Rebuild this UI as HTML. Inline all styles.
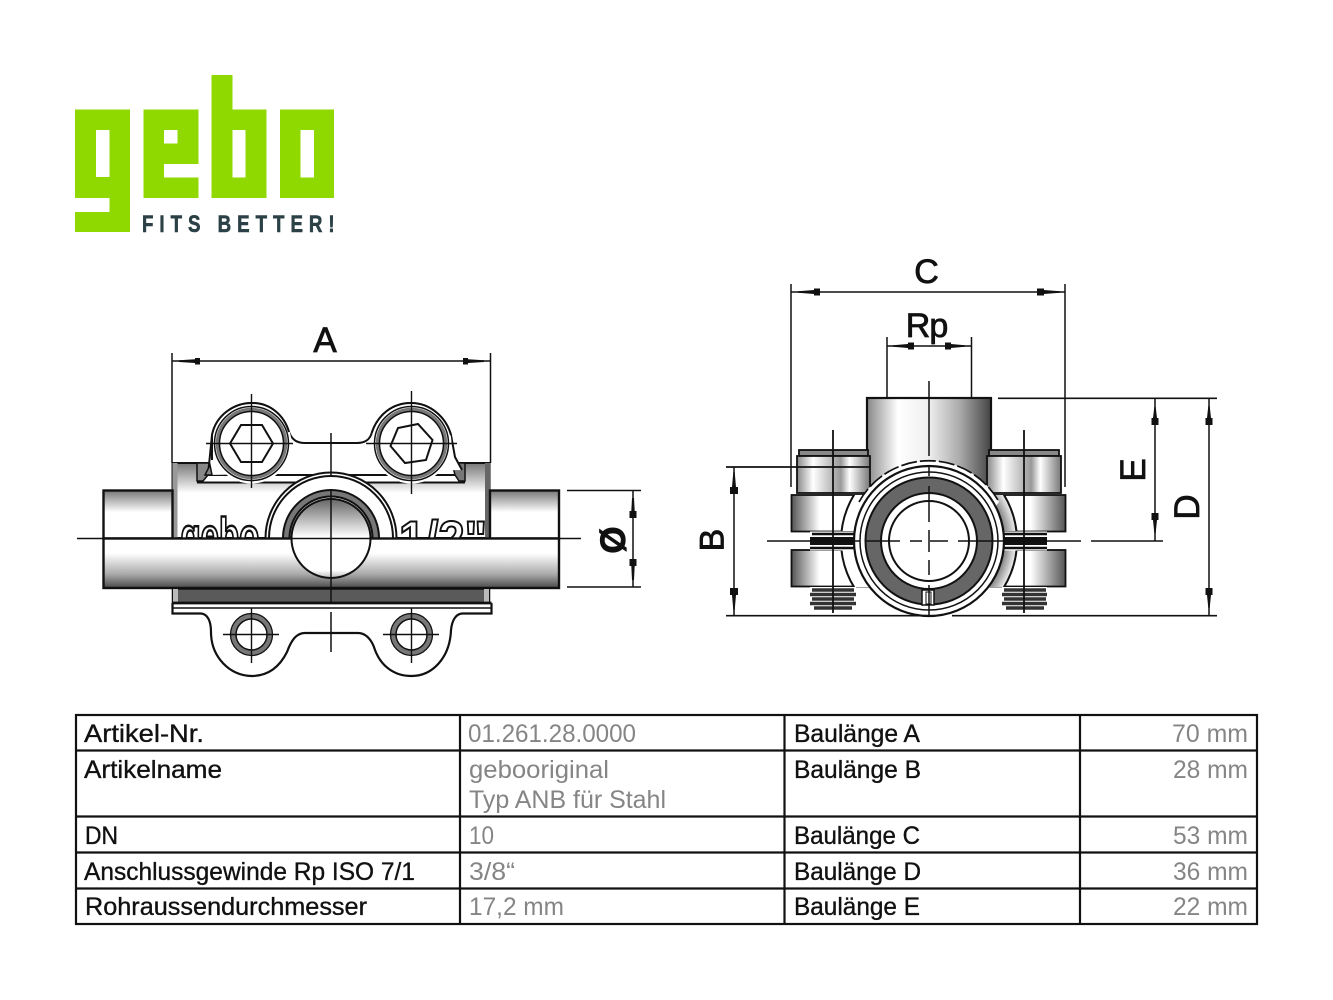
<!DOCTYPE html>
<html><head><meta charset="utf-8"><style>
html,body{margin:0;padding:0;background:#fff}
svg{display:block}
text{font-family:"Liberation Sans",sans-serif}
.t{font-size:25px;fill:#111;stroke:#111;stroke-width:.35}
.g{font-size:25px;fill:#858585}
.l{font-size:34px;fill:#111;stroke:#111;stroke-width:.8}
</style></head><body>
<svg width="1333" height="1000" viewBox="0 0 1333 1000" xmlns="http://www.w3.org/2000/svg">
<defs>
<linearGradient id="v1" x1="0" y1="0" x2="0" y2="1"><stop offset="0" stop-color="#777"/><stop offset=".4" stop-color="#fff"/><stop offset="1" stop-color="#fff"/></linearGradient>
<linearGradient id="v2" x1="0" y1="0" x2="0" y2="1"><stop offset="0" stop-color="#fff"/><stop offset=".3" stop-color="#fff"/><stop offset=".72" stop-color="#aaa"/><stop offset="1" stop-color="#4a4a4a"/></linearGradient>
<linearGradient id="v3" x1="0" y1="0" x2="0" y2="1"><stop offset="0" stop-color="#777"/><stop offset=".45" stop-color="#fff"/><stop offset="1" stop-color="#fff"/></linearGradient>
<linearGradient id="sp" x1="0" y1="0" x2="0" y2="1"><stop offset="0" stop-color="#666"/><stop offset=".48" stop-color="#fff"/><stop offset=".9" stop-color="#fff"/><stop offset="1" stop-color="#bbb"/></linearGradient>
<linearGradient id="neck" x1="0" y1="0" x2="1" y2="0"><stop offset="0" stop-color="#888"/><stop offset=".25" stop-color="#fff"/><stop offset=".5" stop-color="#eee"/><stop offset=".75" stop-color="#aaa"/><stop offset="1" stop-color="#444"/></linearGradient>
<linearGradient id="head" x1="0" y1="0" x2="1" y2="0"><stop offset="0" stop-color="#888"/><stop offset=".22" stop-color="#fff"/><stop offset=".6" stop-color="#999"/><stop offset=".72" stop-color="#fff"/><stop offset="1" stop-color="#777"/></linearGradient>
<linearGradient id="lugL" x1="0" y1="0" x2="1" y2="0"><stop offset="0" stop-color="#555"/><stop offset=".35" stop-color="#fff"/><stop offset="1" stop-color="#fff"/></linearGradient>
<linearGradient id="lugR" x1="0" y1="0" x2="1" y2="0"><stop offset="0" stop-color="#777"/><stop offset=".25" stop-color="#fff"/><stop offset=".55" stop-color="#fff"/><stop offset="1" stop-color="#555"/></linearGradient>
<radialGradient id="earR" gradientUnits="userSpaceOnUse" cx="929" cy="541" r="88"><stop offset=".84" stop-color="#777"/><stop offset="1" stop-color="#f4f4f4"/></radialGradient>
<clipPath id="up"><rect x="172" y="460" width="318" height="78.5"/></clipPath>
<clipPath id="lugLc"><path d="M791 495H872V531H791ZM791 550H872V587H791Z"/></clipPath>
<clipPath id="lugRc"><path d="M988 495H1066V531H988ZM988 550H1066V587H988Z"/></clipPath>
</defs>
<rect width="1333" height="1000" fill="#fff"/>

<!-- logo -->
<g fill="#8fd800" fill-rule="evenodd">
<path d="M75 109.5H130V232H75V212H109.5V198H75ZM96 130V177H109.5V130Z"/>
<path d="M143.500 109.500H198.500V164H164V177.500H198.500V198H143.500ZM164 130V143.500H177.500V130Z"/>
<path d="M211.500 75H232.500V109.500H266.500V198H211.500ZM232.500 130V177.500H245.500V130Z"/>
<path d="M280 109.500H334V198H280ZM300.500 130V177.500H314V130Z"/>
</g>
<text transform="translate(142 232) scale(.78 1)" font-size="24" font-weight="700" fill="#2b4146" stroke="#2b4146" stroke-width=".6" textLength="247" lengthAdjust="spacing">FITS BETTER!</text>

<!-- LEFT VIEW -->
<g stroke="#111" stroke-width="1.5" fill="none">
<rect x="172.500" y="463" width="317" height="75" fill="url(#v1)" stroke-width="2"/>
<rect x="172.500" y="463" width="5" height="75" fill="#999" stroke="none"/>
<rect x="485" y="463" width="5" height="75" fill="#666" stroke="none"/>
<path d="M197 463V482H465V463" fill="#fff" stroke="none"/>
<path d="M197 463H211L208 475 203 481H197Z" fill="#888" stroke="#111"/>
<path d="M465 463H452L455 475 459 481H465Z" fill="#777" stroke="#111"/>
<path d="M197 482.500H465M208 475H455" stroke-width="2"/>
<path d="M208 475L212 435C216 415 234 403 252 403C270 403 284 415 289 432C292 440 297 443 305 443H357C365 443 370 440 372 432C378 415 392 403 411 403C430 403 446 417 451 435L455 457L462 470" fill="#fff" stroke-width="2"/>
<path d="M205 475H212L210 465Z" fill="#888"/>
</g>
<g stroke="#111" fill="none">
<circle cx="251.500" cy="443.500" r="40" fill="#fff" stroke="none"/>
<circle cx="411.500" cy="443.500" r="40" fill="#fff" stroke="none"/>
<path d="M212 460V435C216 415 234 403 252 403C270 403 284 415 289 432M372 432C378 415 392 403 411 403C430 403 446 417 451 435" stroke-width="2"/>
<circle cx="251.500" cy="443.500" r="37" stroke-width="1.500"/>
<circle cx="251.500" cy="443.500" r="34" stroke="#777" stroke-width="3.500"/>
<circle cx="251.500" cy="443.500" r="32" stroke-width="1.500"/>
<circle cx="411.500" cy="443.500" r="37" stroke-width="1.500"/>
<circle cx="411.500" cy="443.500" r="34" stroke="#777" stroke-width="3.500"/>
<circle cx="411.500" cy="443.500" r="32" stroke-width="1.500"/>
<path d="M230 443.500L241 425H262L273 443.500L262 462H241Z" stroke-width="2" fill="#fff"/>
<path d="M390.500 446L398 428 418 424 432.500 440 426 460 405 463Z" stroke-width="2" fill="#fff"/>
<path d="M251.500 394V488M206 443.500H293M411.500 391V494M366 443.500H457" stroke-width="1.400"/>
</g>
<!-- pipes -->
<rect x="103.500" y="490.500" width="69" height="48" fill="url(#v3)" stroke="#111" stroke-width="2.400"/>
<rect x="490" y="490.500" width="69" height="48" fill="url(#v3)" stroke="#111" stroke-width="2.400"/>
<g clip-path="url(#up)">
<text transform="translate(180.500 553) scale(.66 1)" font-size="50" font-weight="700" fill="#fff" stroke="#111" stroke-width="2.500">gebo</text>
<text x="399" y="556" font-size="50" font-weight="700" fill="#fff" stroke="#111" stroke-width="2" textLength="88" lengthAdjust="spacingAndGlyphs">1/2"</text>
<g stroke="#111" stroke-width="2">
<circle cx="331" cy="538" r="65.500" fill="#fff"/>
<circle cx="331" cy="538" r="62" fill="#fff"/>
<circle cx="331" cy="538" r="48" fill="#777"/>
<circle cx="331" cy="538" r="41.500" fill="#fff"/>
</g>
</g>
<rect x="103.500" y="538.500" width="455.500" height="49.500" fill="url(#v2)" stroke="#111" stroke-width="2.400"/>
<rect x="172.500" y="589" width="317" height="14" fill="#5a5a5a" stroke="#111" stroke-width="1.500"/>
<rect x="173" y="589" width="5" height="14" fill="#bbb"/>
<rect x="484" y="589" width="5" height="14" fill="#bbb"/>
<circle cx="331" cy="538.500" r="39.500" fill="url(#sp)" stroke="#111" stroke-width="2"/>
<g stroke="#111" fill="none">
<path d="M172.500 603V613.500H201C207 614 211 620 211 632C211 657 230 676 251.500 676C272 676 282 662 287 652C291 641 296 633 305 633H358C366 633 372 640 375 650C381 666 394 676 411.500 676C433 676 450 657 451 630C452 620 456 614 462 613.500H491.500V603" stroke-width="2.200" fill="#fff"/>
<path d="M172.500 608H491.500" stroke-width="1.500"/>
<path d="M172 603H491.500" stroke-width="2.800"/>
<circle cx="251.500" cy="634.500" r="18.500" stroke="#777" stroke-width="5"/>
<circle cx="251.500" cy="634.500" r="21" stroke-width="1.300"/>
<circle cx="251.500" cy="634.500" r="15.500" stroke-width="1.500"/>
<circle cx="411.500" cy="634.500" r="18.500" stroke="#777" stroke-width="5"/>
<circle cx="411.500" cy="634.500" r="21" stroke-width="1.300"/>
<circle cx="411.500" cy="634.500" r="15.500" stroke-width="1.500"/>
<path d="M223 634.500H279M251.500 608V663M383 634.500H439M411.500 608V663" stroke-width="1.400"/>
<path d="M77 538.500H581M331 433V477M331 490V603M331 612V652" stroke-width="1.500"/>
<!-- dims A and O -->
<path d="M172 353V463M490.500 353V463M172 361H490.500" stroke-width="1.500"/>
<path d="M567 490.500H641M567 587H641M633 490.500V587" stroke-width="1.500"/>
</g>
<g fill="#111">
<path d="M179 360.300L195 359.300V358H200V364.500H195V363L179 362ZM484 360.300L468 359.300V358H463V364.500H468V363L484 362Z"/>
<path d="M632 498L631.300 511H629.500V518H636.500V511H634.700L634 498ZM632 580L631.300 566H629.500V559H636.500V566H634.700L634 580Z"/>
</g>
<text class="l" x="325" y="352" text-anchor="middle" style="font-size:35px">A</text>
<text class="l" transform="translate(625 540) rotate(-90)" text-anchor="middle" style="font-size:35px;font-weight:700">Ø</text>

<!-- RIGHT VIEW -->
<rect x="867" y="398" width="124" height="90" fill="url(#neck)" stroke="#111" stroke-width="2.200"/>
<g stroke="#111" stroke-width="1.800">
<rect x="799" y="450" width="69" height="6" fill="#888"/>
<rect x="797" y="456" width="73" height="37" fill="url(#head)"/>
<rect x="989" y="450" width="70" height="6" fill="#888"/>
<rect x="987" y="456" width="74" height="37" fill="url(#head)"/>
<rect x="791.500" y="495" width="80" height="36.500" fill="url(#lugL)"/>
<rect x="791.500" y="550" width="80" height="36.500" fill="url(#lugL)"/>
<rect x="988" y="495" width="77.500" height="36.500" fill="url(#lugR)"/>
<rect x="988" y="550" width="77.500" height="36.500" fill="url(#lugR)"/>
</g>
<g clip-path="url(#lugLc)"><circle cx="929" cy="541" r="88" fill="#fff" stroke="#111" stroke-width="2"/></g>
<g clip-path="url(#lugRc)"><circle cx="929" cy="541" r="88" fill="url(#earR)" stroke="#111" stroke-width="2"/></g>
<g>
<rect x="810" y="531.500" width="46" height="19" fill="#fff"/>
<rect x="1002" y="531.500" width="45" height="19" fill="#fff"/>
<path d="M812 534H856M810 548H856M1002 534H1047M1002 548H1047" stroke="#111" stroke-width="2.500"/>
<rect x="810" y="537" width="46" height="8" fill="#111"/>
<rect x="1002" y="537" width="45" height="8" fill="#111"/>
<rect x="810" y="587" width="46" height="23" fill="#fff"/>
<rect x="1002" y="587" width="45" height="23" fill="#fff"/>
<path d="M812 590H854M810 594.500H856M812 599H854M810 603.500H856M814 608H852M1004 590H1046M1002 594.500H1047M1004 599H1046M1002 603.500H1047M1006 608H1044" stroke="#333" stroke-width="3.400"/>
</g>
<g stroke="#111" fill="none">
<path d="M859 502A80 80 0 0 1 999 502L985 520H873Z" fill="#fff" stroke="none"/>
<path d="M859 502A80 80 0 0 1 999 502" stroke-width="1.700" stroke-dasharray="16 3"/>
<circle cx="929" cy="541" r="75" fill="#fff" stroke-width="2.200"/>
<circle cx="929" cy="541" r="69" stroke-width="1.500"/>
<circle cx="929" cy="541" r="63.500" fill="#666" stroke-width="2"/>
<circle cx="929" cy="541" r="48" fill="#fff" stroke-width="2"/>
<circle cx="929" cy="541" r="40" fill="#fff" stroke-width="2"/>
<rect x="922" y="590" width="12" height="15" fill="#fff" stroke-width="1.500"/>
<rect x="926" y="592" width="5" height="12" fill="#fff" stroke-width="1"/>
</g>
<g stroke="#111" fill="none" stroke-width="1.500">
<path d="M929 381V456M929 466V476M929 486V522M929 530V552M929 560V575M929 585V616"/>
<path d="M767 541H860M866 541H900M910 541H922M930 541H948M958 541H1081M1091 541H1163"/>
<path d="M833 430V613M1024 430V613" stroke-width="1.800"/>
<path d="M791 284V487M1065 284V487M791 292H1065"/>
<path d="M887 337V397M971.500 337V397M887 346H971.500"/>
<path d="M726 467H870M726 615.700H930M952 615.700H1217M998 398.300H1217" stroke-width="1.700"/>
<path d="M734 467V616M1155 398V541M1209 398V616"/>
</g>
<g fill="#111">
<path d="M798 291.300L814 290V288.500H820V295.500H814V294L798 292.700ZM1060 291.300L1044 290V288.500H1037V295.500H1044V294L1060 292.700Z"/>
<path d="M893 345.300L908 344V342.500H914V349.500H908V348L893 346.700ZM965 345.300L951 344V342.500H945V349.500H951V348L965 346.700Z"/>
<path d="M733.300 472L732 487H730V494H738V487H736L734.700 472ZM733.300 610L732 595H730V588H738V595H736L734.700 610Z"/>
<path d="M1154.300 407L1153 418H1151.500V425H1158.500V418H1157L1155.700 407ZM1154.300 533L1153 520H1151.500V513H1158.500V520H1157L1155.700 533Z"/>
<path d="M1208.300 406L1207 418H1205.500V425H1212.500V418H1211L1209.700 406ZM1208.300 608L1207 595H1205.500V588H1212.500V595H1211L1209.700 608Z"/>
</g>
<text class="l" x="926.500" y="283" text-anchor="middle">C</text>
<text class="l" x="926.500" y="337" text-anchor="middle" letter-spacing="-1">Rp</text>
<text class="l" transform="translate(723.500 540) rotate(-90)" text-anchor="middle">B</text>
<text class="l" transform="translate(1145 470) rotate(-90)" text-anchor="middle" style="font-size:35px">E</text>
<text class="l" transform="translate(1199 507) rotate(-90)" text-anchor="middle" style="font-size:35px">D</text>

<!-- TABLE -->
<g stroke="#111" stroke-width="2.200" fill="none">
<rect x="76" y="715" width="1181" height="209"/>
<path d="M76 750.500H1257M76 816.500H1257M76 852.500H1257M76 888.500H1257M460 715V924M784.500 715V924M1080 715V924"/>
</g>
<text class="t" x="84" y="742" textLength="120" lengthAdjust="spacingAndGlyphs">Artikel-Nr.</text>
<text class="t" x="84" y="778" textLength="138" lengthAdjust="spacingAndGlyphs">Artikelname</text>
<text class="t" x="85" y="844" textLength="33" lengthAdjust="spacingAndGlyphs">DN</text>
<text class="t" x="84" y="880" textLength="331" lengthAdjust="spacingAndGlyphs">Anschlussgewinde Rp ISO 7/1</text>
<text class="t" x="85" y="915" textLength="282" lengthAdjust="spacingAndGlyphs">Rohraussendurchmesser</text>
<text class="g" x="468" y="742" textLength="168" lengthAdjust="spacingAndGlyphs">01.261.28.0000</text>
<text class="g" x="469" y="778" textLength="140" lengthAdjust="spacingAndGlyphs">gebooriginal</text>
<text class="g" x="469" y="808" textLength="197" lengthAdjust="spacingAndGlyphs">Typ ANB für Stahl</text>
<text class="g" x="469" y="844" textLength="25" lengthAdjust="spacingAndGlyphs">10</text>
<text class="g" x="469" y="880" textLength="46" lengthAdjust="spacingAndGlyphs">3/8“</text>
<text class="g" x="469" y="915" textLength="95" lengthAdjust="spacingAndGlyphs">17,2 mm</text>
<text class="t" x="794" y="742" textLength="126" lengthAdjust="spacingAndGlyphs">Baulänge A</text>
<text class="t" x="794" y="778" textLength="127" lengthAdjust="spacingAndGlyphs">Baulänge B</text>
<text class="t" x="794" y="844" textLength="126" lengthAdjust="spacingAndGlyphs">Baulänge C</text>
<text class="t" x="794" y="880" textLength="127" lengthAdjust="spacingAndGlyphs">Baulänge D</text>
<text class="t" x="794" y="915" textLength="126" lengthAdjust="spacingAndGlyphs">Baulänge E</text>
<text class="g" x="1172" y="742" textLength="76" lengthAdjust="spacingAndGlyphs">70 mm</text>
<text class="g" x="1173" y="778" textLength="75" lengthAdjust="spacingAndGlyphs">28 mm</text>
<text class="g" x="1173" y="844" textLength="75" lengthAdjust="spacingAndGlyphs">53 mm</text>
<text class="g" x="1173" y="880" textLength="75" lengthAdjust="spacingAndGlyphs">36 mm</text>
<text class="g" x="1173" y="915" textLength="75" lengthAdjust="spacingAndGlyphs">22 mm</text>
</svg>
</body></html>
